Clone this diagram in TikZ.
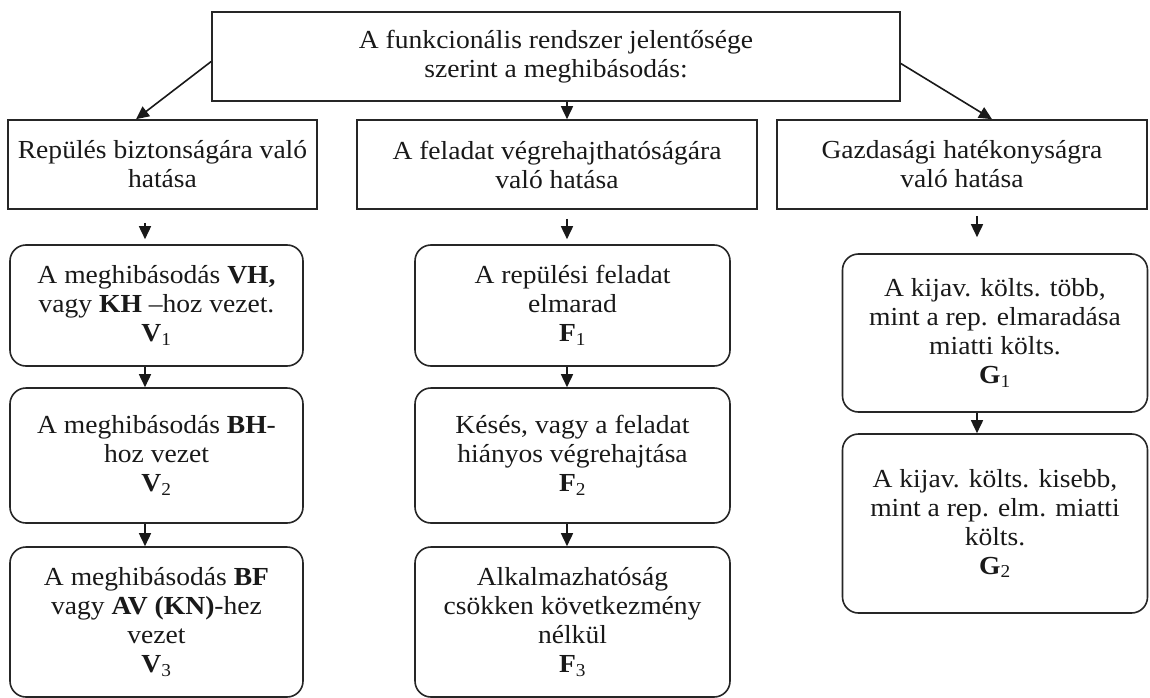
\documentclass[tikz,border=0pt]{standalone}
\usepackage{fontspec}
\setmainfont{Liberation Serif}[FakeStretch=1.06]
\usetikzlibrary{arrows.meta,calc}
\begin{document}
\begin{tikzpicture}[x=1pt,y=-1pt,
  box/.style={draw=black!85, line width=1.6pt, align=center, inner sep=0pt,
    font=\fontsize{26}{29}\selectfont, text=black!90},
  sqbox/.style={box},
  rbox/.style={box, rounded corners=16pt},
  arr/.style={draw=black!90, line width=1.6pt, -{Triangle[width=12pt,length=13pt]}}]
\useasboundingbox[fill=white] (0,0) rectangle (1150,698);
% level 1
\node[sqbox, minimum width=688pt, minimum height=89pt] (top) at (556,56.5)
  {A funkcionális rendszer jelentősége\\szerint a meghibásodás:};
% level 2
\node[sqbox, minimum width=309pt, minimum height=89pt] (l1) at (162.5,164.5)
  {Repülés biztonságára való\\hatása};
\node[sqbox, minimum width=400pt, minimum height=89pt] (m1) at (557,164.5)
  {A feladat végrehajthatóságára\\való hatása};
\node[sqbox, minimum width=370pt, minimum height=89pt] (r1) at (962,164.5)
  {Gazdasági hatékonyságra\\való hatása};
% left column
\node[rbox, minimum width=293pt, minimum height=121pt] (v1) at (156.5,305.5)
  {A meghibásodás \textbf{VH,}\\vagy \textbf{KH} –hoz vezet.\\\textbf{V}\textsubscript{1}};
\node[rbox, minimum width=293pt, minimum height=135pt] (v2) at (156.5,455.5)
  {A meghibásodás \textbf{BH}-\\hoz vezet\\\textbf{V}\textsubscript{2}};
\node[rbox, minimum width=293pt, minimum height=150pt] (v3) at (156.5,622)
  {A meghibásodás \textbf{BF}\\vagy \textbf{AV (KN)}-hez\\vezet\\\textbf{V}\textsubscript{3}};
% middle column
\node[rbox, minimum width=315pt, minimum height=121pt] (f1) at (572.5,305.5)
  {A repülési feladat\\elmarad\\\textbf{F}\textsubscript{1}};
\node[rbox, minimum width=315pt, minimum height=135pt] (f2) at (572.5,455.5)
  {Késés, vagy a feladat\\hiányos végrehajtása\\\textbf{F}\textsubscript{2}};
\node[rbox, minimum width=315pt, minimum height=150pt] (f3) at (572.5,622)
  {Alkalmazhatóság\\csökken következmény\\nélkül\\\textbf{F}\textsubscript{3}};
% right column
\node[rbox, minimum width=305pt, minimum height=158pt] (g1) at (995,333)
  {A kijav. költs. több,\\mint a rep. elmaradása\\miatti költs.\\\textbf{G}\textsubscript{1}};
\node[rbox, minimum width=305pt, minimum height=179pt] (g2) at (995,523.5)
  {A kijav. költs. kisebb,\\mint a rep. elm. miatti\\költs.\\\textbf{G}\textsubscript{2}};
% x positions of connectors
\coordinate (xl) at (136,0);
\coordinate (xr) at (992,0);
\coordinate (xv) at (145,0);
\coordinate (xm) at (567,0);
\coordinate (xg) at (977,0);
% connectors
\draw[arr] ([yshift=-5pt]top.west) -- (l1.north -| xl);
\draw[arr] ([yshift=-7pt]top.east) -- (r1.north -| xr);
\draw[arr] (top.south -| xm) -- (m1.north -| xm);
\draw[arr, shorten <=13pt, shorten >=5pt] (l1.south -| xv) -- (v1.north -| xv);
\draw[arr, shorten <=9pt, shorten >=5pt] (m1.south -| xm) -- (f1.north -| xm);
\draw[arr, shorten <=6pt, shorten >=16pt] (r1.south -| xg) -- (g1.north -| xg);
\draw[arr] (v1.south -| xv) -- (v2.north -| xv);
\draw[arr] (v2.south -| xv) -- (v3.north -| xv);
\draw[arr] (f1.south -| xm) -- (f2.north -| xm);
\draw[arr] (f2.south -| xm) -- (f3.north -| xm);
\draw[arr] (g1.south -| xg) -- (g2.north -| xg);
\end{tikzpicture}
\end{document}
